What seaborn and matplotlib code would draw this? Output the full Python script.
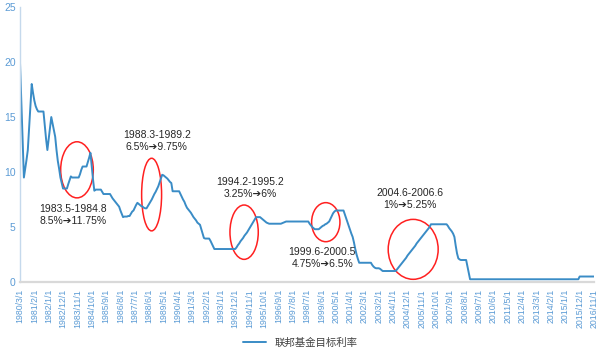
import matplotlib
matplotlib.use("Agg")
import matplotlib.pyplot as plt
from matplotlib.patches import Ellipse
import seaborn as sns
import pandas as pd

# Fed funds target rate: value from each month on until the next entry
change_months = [
    "1980-03", "1980-04", "1980-05", "1980-06", "1980-07", "1980-08", "1980-09", "1980-10", "1980-11", "1980-12",
    "1981-01", "1981-02", "1981-03", "1981-04", "1981-05", "1981-10", "1981-11", "1981-12",
    "1982-01", "1982-02", "1982-03", "1982-04", "1982-05", "1982-06", "1982-07", "1982-08", "1982-09", "1982-10", "1982-11", "1982-12",
    "1983-04", "1983-05", "1983-06", "1983-07",
    "1984-01", "1984-02", "1984-03", "1984-07", "1984-08", "1984-09", "1984-10", "1984-11", "1984-12",
    "1985-01", "1985-06", "1985-07",
    "1986-01", "1986-02", "1986-03", "1986-04", "1986-05", "1986-06", "1986-07", "1986-08", "1986-09", "1986-10", "1986-11",
    "1987-02", "1987-04", "1987-05", "1987-06", "1987-07", "1987-08", "1987-09", "1987-10", "1987-11", "1987-12",
    "1988-01", "1988-02", "1988-03", "1988-05", "1988-06", "1988-07", "1988-08", "1988-09", "1988-10", "1988-11", "1988-12",
    "1989-01", "1989-02", "1989-03", "1989-04", "1989-05", "1989-06", "1989-07", "1989-08", "1989-09", "1989-10", "1989-11", "1989-12",
    "1990-06", "1990-07", "1990-08", "1990-09", "1990-10", "1990-11", "1990-12",
    "1991-01", "1991-02", "1991-03", "1991-04", "1991-05", "1991-06", "1991-07", "1991-08", "1991-09", "1991-10", "1991-11", "1991-12",
    "1992-01", "1992-05", "1992-06", "1992-07", "1992-08",
    "1994-01", "1994-02", "1994-03", "1994-04", "1994-05", "1994-06", "1994-07", "1994-08", "1994-09", "1994-10", "1994-11", "1994-12",
    "1995-01", "1995-02", "1995-03", "1995-04", "1995-08", "1995-09", "1995-10", "1995-11", "1995-12",
    "1996-01", "1996-02", "1996-12",
    "1997-01", "1997-02", "1997-03",
    "1998-09", "1998-10", "1998-11", "1998-12",
    "1999-01", "1999-05", "1999-06", "1999-07", "1999-08", "1999-09", "1999-10", "1999-11", "1999-12",
    "2000-01", "2000-02", "2000-03", "2000-04", "2000-05", "2000-12",
    "2001-01", "2001-02", "2001-03", "2001-04", "2001-05", "2001-06", "2001-07", "2001-08", "2001-09", "2001-10", "2001-11",
    "2002-09", "2002-10", "2002-11", "2002-12",
    "2003-03", "2003-04", "2003-05",
    "2004-04", "2004-05", "2004-06", "2004-07", "2004-08", "2004-09", "2004-10", "2004-11", "2004-12",
    "2005-01", "2005-02", "2005-03", "2005-04", "2005-05", "2005-06", "2005-07", "2005-08", "2005-09", "2005-10", "2005-11", "2005-12",
    "2006-01", "2006-02", "2006-03", "2006-04", "2006-05", "2006-06",
    "2007-07", "2007-08", "2007-09", "2007-10", "2007-11", "2007-12",
    "2008-01", "2008-02", "2008-03", "2008-04", "2008-05", "2008-10", "2008-11", "2008-12",
    "2015-12",
]
change_rates = [
    20, 16.5, 13, 9.5, 10.3, 11.1, 12, 14, 16, 18,
    17.2, 16.5, 16, 15.7, 15.5, 14.2, 13, 12,
    13, 14, 15, 14.4, 13.8, 13.2, 12, 11, 10.3, 9.5, 9, 8.5,
    8.9, 9.25, 9.6, 9.5,
    9.8, 10.2, 10.5, 10.9, 11.3, 11.75, 10.5, 9.3, 8.3,
    8.4, 8.2, 8.0,
    7.8, 7.6, 7.45, 7.3, 7.15, 7.0, 6.85, 6.5, 6.2, 5.9, 5.95,
    6.0, 6.2, 6.4, 6.5, 6.75, 7.0, 7.2, 7.1, 7.0, 6.9,
    6.85, 6.75, 6.7, 6.9, 7.1, 7.3, 7.5, 7.75, 8.0, 8.2, 8.45,
    8.7, 9.05, 9.4, 9.75, 9.7, 9.6, 9.5, 9.4, 9.25, 9.1, 9.0, 8.25,
    8.0, 7.75, 7.5, 7.3, 7.0, 6.75, 6.6,
    6.45, 6.3, 6.1, 5.9, 5.75, 5.6, 5.4, 5.3, 5.2, 4.8, 4.4, 4.0,
    3.95, 3.75, 3.5, 3.25, 3.0,
    3.15, 3.35, 3.5, 3.7, 3.85, 4.0, 4.2, 4.35, 4.5, 4.7, 4.9, 5.1,
    5.3, 5.5, 5.7, 5.9, 5.8, 5.7, 5.6, 5.5, 5.4,
    5.35, 5.3, 5.35,
    5.4, 5.45, 5.5,
    5.3, 5.15, 5.0, 4.9,
    4.8, 4.9, 5.0, 5.1, 5.15, 5.25, 5.3, 5.4, 5.5,
    5.75, 6.0, 6.25, 6.4, 6.5, 6.15,
    5.8, 5.45, 5.1, 4.75, 4.4, 4.1, 3.6, 3.0, 2.5, 2.1, 1.75,
    1.55, 1.4, 1.3, 1.25,
    1.2, 1.1, 1.0,
    1.15, 1.3, 1.45, 1.6, 1.75, 1.9, 2.05, 2.2, 2.4,
    2.55, 2.7, 2.85, 3.0, 3.15, 3.3, 3.5, 3.65, 3.8, 3.95, 4.1, 4.25,
    4.4, 4.55, 4.7, 4.85, 5.0, 5.25,
    5.1, 4.9, 4.75, 4.6, 4.4, 4.1,
    3.3, 2.6, 2.15, 2.05, 2.0, 1.4, 0.8, 0.25,
    0.5,
]
first_month = "1980-03"
last_month = "2016-11"

series_name = "联邦基金目标利率"

note_texts = [
    "1983.5-1984.8\n8.5%➔11.75%",
    "1988.3-1989.2\n6.5%➔9.75%",
    "1994.2-1995.2\n3.25%➔6%",
    "1999.6-2000.5\n4.75%➔6.5%",
    "2004.6-2006.6\n1%➔5.25%",
]

months = pd.period_range(first_month, last_month, freq="M")
rate = pd.Series(change_rates, index=pd.PeriodIndex(change_months, freq="M"))
rate = rate.reindex(months).ffill()
df = pd.DataFrame({"pos": range(len(months)), "rate": rate.values, "label": [f"{p.year}/{p.month}/1" for p in months]})

sns.set_style("white")
plt.rcParams["font.family"] = ["Liberation Sans", "Noto Sans CJK SC", "DejaVu Sans"]

fig = plt.figure(figsize=(6, 3.55), dpi=100)
ax = fig.add_axes([0.0333, 0.2056, 0.9567, 0.7746])

line_color = "#3a8cc6"
tick_color = "#5b9bd5"
sns.lineplot(data=df, x="pos", y="rate", ax=ax, color=line_color, linewidth=1.4, label=series_name, legend=False)

ax.set_xlim(0, len(months) - 1)
ax.set_ylim(0, 25)
ax.set_yticks(range(0, 26, 5))
ticks = df["pos"][::11]
ax.set_xticks(ticks)
ax.set_xticklabels(df["label"][::11], rotation=90, fontsize=6.3, color=tick_color)
ax.tick_params(axis="y", labelsize=7.5, colors=tick_color, length=0, pad=3)
ax.tick_params(axis="x", length=0, pad=5)
ax.set_xlabel("")
ax.set_ylabel("")

for s in ["top", "right"]:
    ax.spines[s].set_visible(False)
ax.spines["left"].set_color("#c5d9ec")
ax.spines["left"].set_linewidth(1.0)
ax.spines["bottom"].set_color("#d9d9d9")
ax.spines["bottom"].set_linewidth(1.6)

# red ellipses around the hiking cycles (centre x in months, centre y, width, height)
ellipses = [(43.7, 10.2, 25, 5.1), (100.9, 7.95, 15.3, 6.6), (171.8, 4.53, 21.7, 4.94),
            (234.4, 5.44, 21.7, 3.55), (301.4, 2.97, 38.3, 5.45)]
for cx, cy, w, h in ellipses:
    ax.add_patch(Ellipse((cx, cy), w, h, fill=False, edgecolor="#ff2020", linewidth=1.1))

note_pos = [(40.6, 6.1), (104.8, 12.8), (176.2, 8.55), (231.8, 2.18), (298.9, 7.55)]
for (nx, ny), txt in zip(note_pos, note_texts):
    ax.text(nx, ny, txt, ha="center", va="center", fontsize=7.5, color="#262626", linespacing=1.25,
            family=["Liberation Sans", "DejaVu Sans"])

handles, labels = ax.get_legend_handles_labels()
fig.legend(handles, labels, loc="center", bbox_to_anchor=(0.5, 1 - 343 / 355), frameon=False,
           fontsize=7.5, handlelength=2.2, labelcolor="#404040")

fig.savefig("out.png", dpi=100)
